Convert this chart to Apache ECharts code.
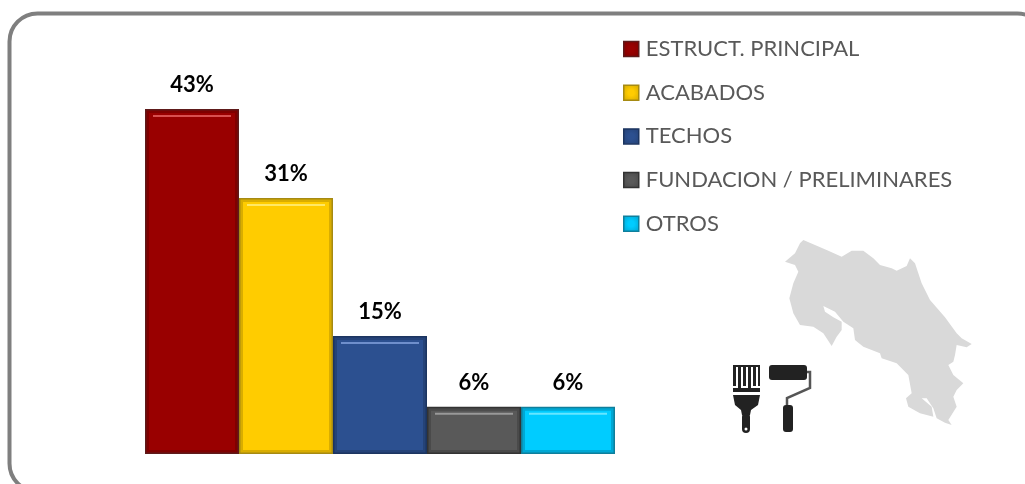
<!DOCTYPE html>
<html>
<head>
<meta charset="utf-8">
<title>Chart</title>
<style>
    html, body { margin: 0; padding: 0; background: #fff; }
    #main { width: 1025px; height: 484px; }
</style>
<script src="https://cdn.jsdelivr.net/npm/echarts@6/dist/echarts.min.js"></script>
</head>
<body>
<div id="main"></div>
<script>
// bar heights, the printed labels are rounded differently
var categories = ['ESTRUCT. PRINCIPAL', 'ACABADOS', 'TECHOS', 'FUNDACION / PRELIMINARES', 'OTROS'];
var barValues = [43, 31.9, 14.7, 5.9, 5.9];
var labels = ['43%', '31%', '15%', '6%', '6%'];
var fills = ['#990000', '#ffcc00', '#2c5090', '#595959', '#00ccff'];
var edges = ['#5e1a1a', '#a68a12', '#1c3560', '#333333', '#0f7f9c'];
var bevels = ['#7f0000', '#d9ad00', '#254378', '#4a4a4a', '#00a8d4'];
var shines = ['#d85050', '#ffe866', '#6f8fcc', '#999999', '#66e6ff'];

// country outline, decoration only
var mapOutline = [[310,30],[345,45],[385,62],[425,80],[455,62],[490,62],[520,85],[540,105],[575,115],[590,122],
    [620,108],[630,85],[645,100],[665,160],[690,210],[735,262],[770,310],[785,325],[815,342],[800,352],[770,345],
    [765,375],[760,395],[745,405],[760,435],[790,460],[770,480],[760,500],[770,530],[745,570],[755,585],[735,578],
    [710,565],[700,535],[680,505],[665,505],[695,530],[700,560],[660,550],[625,530],[618,505],[635,490],[625,435],
    [590,400],[545,385],[540,370],[490,350],[465,330],[460,295],[430,275],[405,245],[370,228],[375,245],[400,262],
    [425,275],[425,300],[410,320],[395,348],[370,310],[340,290],[300,285],[280,250],[268,205],[280,160],[295,125],
    [285,105],[255,95],[285,70],[300,40]];

var chart = echarts.init(document.getElementById('main'));

function renderBar(idx) {
    return function (params, api) {
        var top = api.coord([api.value(0), api.value(1)]);
        var base = api.coord([api.value(0), 0]);
        var w = api.size([1, 0])[0];
        var x = top[0] - w / 2;
        var y = top[1];
        var h = base[1] - top[1];
        return {
            type: 'group',
            children: [
                { type: 'rect', shape: { x: x, y: y, width: w, height: h },
                  style: { fill: edges[idx] } },
                { type: 'rect', shape: { x: x + 1.5, y: y + 1.5, width: w - 3, height: h - 3 },
                  style: { fill: bevels[idx] } },
                { type: 'rect', shape: { x: x + 4, y: y + 4, width: w - 8, height: h - 8 },
                  style: { fill: fills[idx] } },
                { type: 'rect', shape: { x: x + 8, y: y + 6, width: w - 16, height: 2 },
                  style: { fill: shines[idx] } },
                { type: 'text', x: top[0], y: y - 24,
                  style: { text: labels[idx], fill: '#000', font: 'bold 22px Lato', align: 'center', verticalAlign: 'middle' } }
            ]
        };
    };
}

var series = categories.map(function (name, i) {
    return {
        name: name,
        type: 'custom',
        renderItem: renderBar(i),
        encode: { x: 0, y: 1 },
        itemStyle: { color: fills[i] },
        silent: true,
        data: [[i, barValues[i]]]
    };
});

// gray panel with its right and bottom cut off by the window
var panel = {
    type: 'rect', z: -1,
    shape: { x: 9.5, y: 13.5, width: 1036, height: 478, r: 28 },
    style: { fill: '#fff', stroke: '#7f7f7f', lineWidth: 4 }
};
var crMap = {
    type: 'polygon', x: 700, y: 230, scaleX: 1 / 3, scaleY: 1 / 3,
    shape: { points: mapOutline },
    style: { fill: '#d9d9d9' }
};

var icon = '#222';
function r(x, y, w, h, rad) {
    return { type: 'rect', shape: { x: x, y: y, width: w, height: h, r: rad || 0 }, style: { fill: icon } };
}
var brush = {
    type: 'group', x: 725, y: 355,
    children: [
        r(8, 10, 27, 2),
        r(8, 11, 3, 20), r(13, 11, 3, 22), r(18, 11, 3, 20), r(23, 11, 3, 22), r(28, 11, 3, 20), r(33, 11, 2, 20),
        r(8, 33, 27, 4),
        { type: 'polygon', shape: { points: [[8,40],[35,40],[33,50],[26,55],[25,60],[17,60],[16,55],[10,50]] }, style: { fill: icon } },
        r(17, 58, 8, 20, 4),
        { type: 'circle', shape: { cx: 21, cy: 74, r: 1.5 }, style: { fill: '#fff' } }
    ]
};
var roller = {
    type: 'group', x: 725, y: 355,
    children: [
        r(44, 10, 38, 15, 3),
        { type: 'polyline', shape: { points: [[82,17],[85,17],[85,33],[62,43],[62,50]] },
          style: { fill: 'none', stroke: '#555', lineWidth: 2.5 } },
        r(58, 50, 10, 27, 3)
    ]
};

chart.setOption({
    animation: false,
    legend: {
        orient: 'vertical',
        left: 623,
        top: 38,
        padding: 0,
        itemWidth: 15,
        itemHeight: 15,
        itemGap: 21.7,
        selectedMode: false,
        textStyle: { color: '#595959', fontFamily: 'Lato', fontSize: 22, lineHeight: 20, padding: [0, 0, 0, 2] },
        data: categories.map(function (name, i) {
            return {
                name: name,
                icon: 'rect',
                itemStyle: {
                    color: {
                        type: 'radial', x: 0.5, y: 0.5, r: 0.6,
                        colorStops: [
                            { offset: 0.3, color: fills[i] },
                            { offset: 1, color: bevels[i] }
                        ]
                    },
                    borderColor: edges[i],
                    borderWidth: 1.5
                }
            };
        })
    },
    grid: { left: 145, width: 470, top: 109, bottom: 30 },
    xAxis: { type: 'category', data: categories, show: false },
    yAxis: { type: 'value', min: 0, max: 43, show: false },
    graphic: [panel, crMap, brush, roller],
    series: series
});
window.onresize = chart.resize;
</script>
</body>
</html>
